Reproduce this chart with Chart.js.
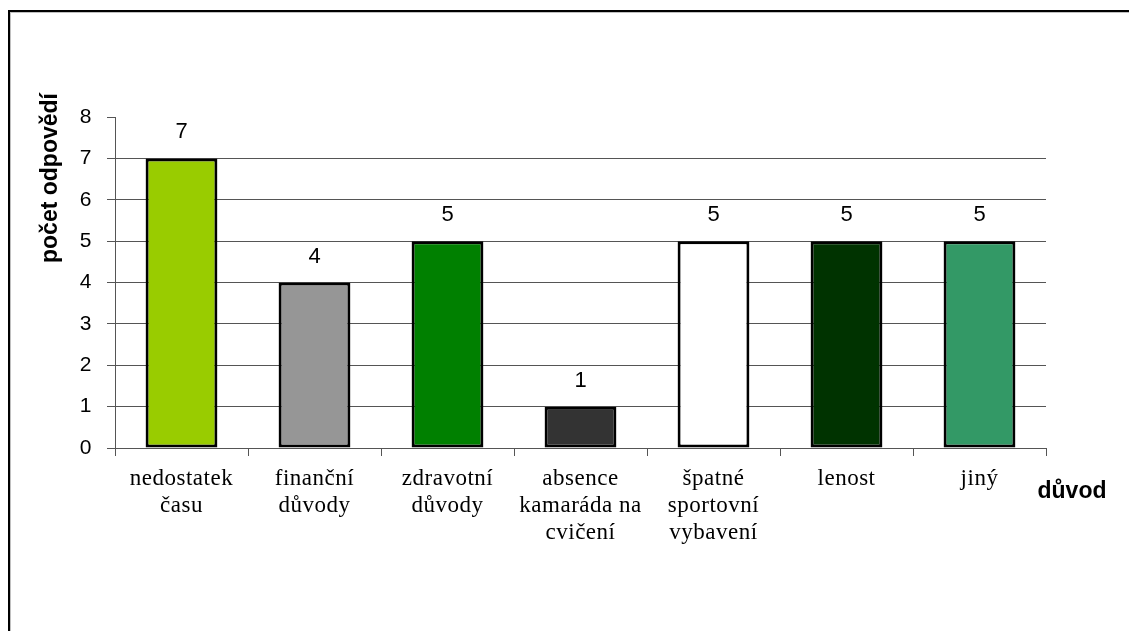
<!DOCTYPE html>
<html lang="cs">
<head>
    <meta charset="UTF-8">
    <title>Důvody</title>
    <script src="https://cdn.jsdelivr.net/npm/chart.js"></script>
    <style>
        body {
            margin: 0;
            background: #fff;
            overflow: hidden;
        }
        /* frame: only top and left edges visible in the picture */
        #frame {
            position: absolute;
            left: 8px;
            top: 10px;
            width: 2000px;
            height: 2000px;
            border-top: 2px solid #000;
            border-left: 2px solid #000;
            box-shadow: inset 1px 1px 0 #c0c0c0;
        }
        #chart {
            position: absolute;
            left: 0;
            top: 0;
        }
    </style>
</head>
<body>
    <div id="frame"></div>
    <canvas id="chart" width="1129" height="631"></canvas>

    <script>
        // data
        var categories = [
            ['nedostatek', 'času'],
            ['finanční', 'důvody'],
            ['zdravotní', 'důvody'],
            ['absence', 'kamaráda na', 'cvičení'],
            ['špatné', 'sportovní', 'vybavení'],
            ['lenost'],
            ['jiný']
        ];
        var answers = [7, 4, 5, 1, 5, 5, 5];
        var barColors = ['#99cc00', '#969696', '#008000', '#333333', '#ffffff', '#003300', '#339966'];
        var yTicks = [0, 1, 2, 3, 4, 5, 6, 7, 8];

        var lineColor = '#555555';

        // the serif category labels in the picture are a bit spaced out
        var spacing = {
            id: 'spacing',
            beforeDraw: function (chart) { chart.ctx.letterSpacing = '0.5px'; },
            afterDraw: function (chart) { chart.ctx.letterSpacing = '0px'; }
        };

        // value labels above bars + the two axis titles
        var extras = {
            id: 'extras',
            afterDatasetsDraw: function (chart) {
                var c = chart.ctx;
                var meta = chart.getDatasetMeta(0);
                c.save();
                c.letterSpacing = '0px';
                c.fillStyle = '#000';
                c.font = '22px "Liberation Sans", Arial, sans-serif';
                c.textAlign = 'center';
                c.textBaseline = 'middle';
                meta.data.forEach(function (bar, i) {
                    c.fillText(String(answers[i]), bar.x, bar.y - 26);
                });

                c.font = 'bold 23px "Liberation Sans", Arial, sans-serif';
                c.fillText('důvod', 1072, 492);

                c.translate(51, 178);
                c.rotate(-Math.PI / 2);
                c.fillText('počet odpovědí', 0, 0);
                c.restore();
            }
        };

        var ctx = document.getElementById('chart').getContext('2d');
        var chart = new Chart(ctx, {
            type: 'bar',
            data: {
                labels: categories,
                datasets: [{
                    data: answers,
                    backgroundColor: barColors,
                    borderColor: '#000',
                    borderWidth: 3,
                    borderSkipped: false,
                    barPercentage: 0.54,
                    categoryPercentage: 1
                }]
            },
            options: {
                responsive: false,
                animation: false,
                layout: {
                    padding: { left: 0, top: 117, right: 83, bottom: 0 }
                },
                plugins: {
                    legend: { display: false },
                    tooltip: { enabled: false }
                },
                scales: {
                    x: {
                        afterFit: function (s) { s.height = 631 - 448; },
                        grid: {
                            offset: true,
                            drawOnChartArea: false,
                            drawTicks: true,
                            tickLength: 8,
                            color: lineColor
                        },
                        border: { color: lineColor, width: 1 },
                        ticks: {
                            color: '#000',
                            padding: 9,
                            maxRotation: 0,
                            autoSkip: false,
                            font: { family: '"Liberation Serif", "Times New Roman", serif', size: 23, lineHeight: 1.18 }
                        }
                    },
                    y: {
                        min: 0,
                        max: 8,
                        afterFit: function (s) { s.width = 115; },
                        afterBuildTicks: function (s) {
                            s.ticks = yTicks.map(function (v) { return { value: v }; });
                        },
                        grid: {
                            color: function (c) { return c.tick && c.tick.value === 8 ? 'rgba(0,0,0,0)' : lineColor; },
                            tickColor: lineColor,
                            tickLength: 8
                        },
                        border: { color: lineColor, width: 1 },
                        ticks: {
                            color: '#000',
                            padding: 15,
                            font: { family: '"Liberation Sans", Arial, sans-serif', size: 21 }
                        }
                    }
                }
            },
            plugins: [spacing, extras]
        });
    </script>
</body>
</html>
